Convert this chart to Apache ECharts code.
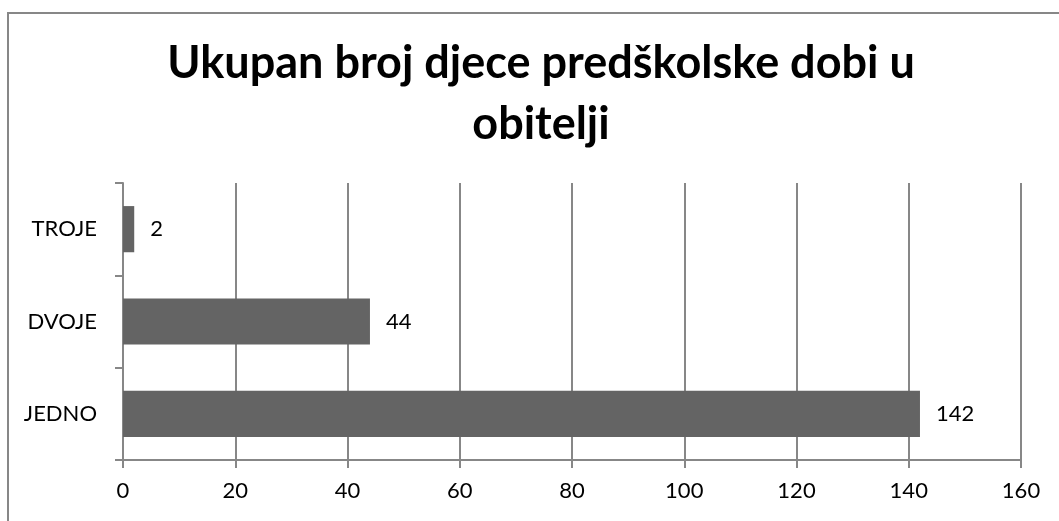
<!DOCTYPE html>
<html>
<head>
<meta charset="utf-8">
<script src="https://cdn.jsdelivr.net/npm/echarts@6/dist/echarts.min.js"></script>
<style>
  html, body { margin: 0; padding: 0; background: #fff; }
  #frame {
    position: absolute; left: 7px; top: 12px; right: -10px; bottom: -10px;
    border-left: 2px solid #878787; border-top: 2px solid #878787;
  }
  #chart { position: absolute; left: 0; top: 0; width: 1059px; height: 521px; }
</style>
</head>
<body>
<div id="frame"></div>
<div id="chart"></div>
<script>
// kategorije odozdo prema gore
const categories = ['JEDNO', 'DVOJE', 'TROJE']
const values = [142, 44, 2]
const axisMin = 0
const axisMax = 160
const axisStep = 20

const chart = echarts.init(document.getElementById('chart'))
const lineColor = '#878787'
const font = 'Lato, "Open Sans", sans-serif'

chart.setOption({
  animation: false,
  title: {
    text: 'Ukupan broj djece predškolske dobi u\nobitelji',
    left: 536,
    textAlign: 'center',
    top: 28,
    textStyle: {
      fontFamily: font,
      fontWeight: 'bold',
      fontSize: 45,
      lineHeight: 61,
      color: '#000'
    }
  },
  grid: { left: 123, right: 38, top: 183, bottom: 61 },
  xAxis: {
    type: 'value',
    min: axisMin,
    max: axisMax,
    interval: axisStep,
    axisLine: { show: true, lineStyle: { color: lineColor, width: 2 } },
    axisTick: { show: true, length: 8, lineStyle: { color: lineColor, width: 2 } },
    axisLabel: { color: '#000', fontFamily: font, fontSize: 22, margin: 20 },
    splitLine: { show: true, lineStyle: { color: lineColor, width: 2 } }
  },
  yAxis: {
    type: 'category',
    data: categories,
    axisLine: { show: true, lineStyle: { color: lineColor, width: 2 } },
    axisTick: { show: true, length: 8, lineStyle: { color: lineColor, width: 2 } },
    axisLabel: { color: '#000', fontFamily: font, fontSize: 22, margin: 26 },
    splitLine: { show: false }
  },
  series: [{
    type: 'bar',
    data: values,
    barWidth: '50%',
    itemStyle: { color: '#646464' },
    label: {
      show: true,
      position: 'right',
      distance: 16,
      color: '#000',
      fontFamily: font,
      fontSize: 22
    }
  }]
})
</script>
</body>
</html>
